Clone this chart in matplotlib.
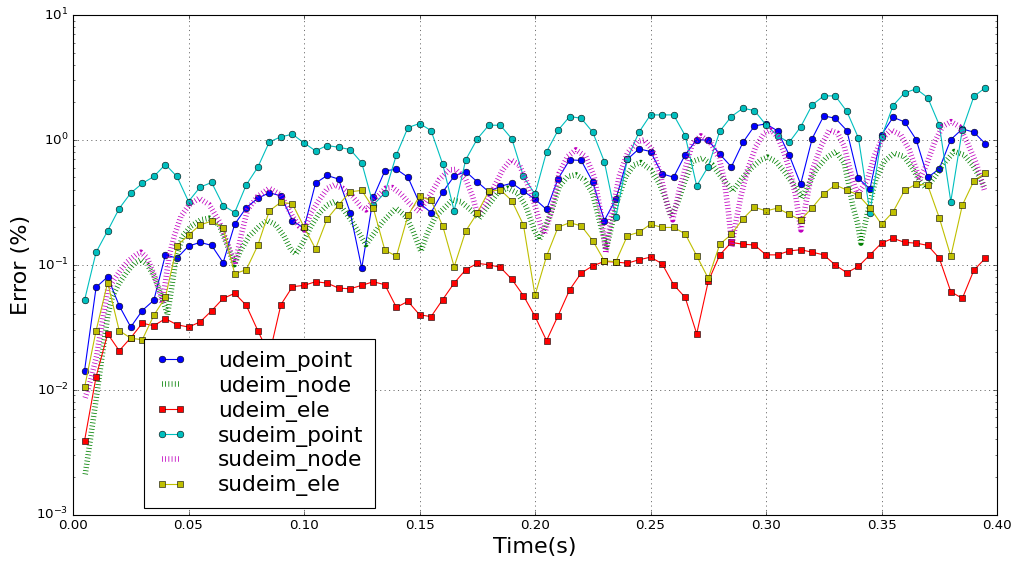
import numpy as np
import matplotlib
matplotlib.use('Agg')
import matplotlib.pyplot as plt

# sample times of the point / element series
t = np.round(np.arange(1, 80) * 0.005, 3)

udeim_point = [0.0142, 0.066, 0.080, 0.047, 0.0317, 0.043, 0.052, 0.120, 0.113, 0.141,
               0.151, 0.143, 0.104, 0.211, 0.286, 0.341, 0.377, 0.356, 0.226, 0.196,
               0.45, 0.519, 0.485, 0.262, 0.094, 0.346, 0.565, 0.582, 0.502, 0.311,
               0.262, 0.381, 0.512, 0.558, 0.461, 0.384, 0.425, 0.45, 0.388, 0.335,
               0.277, 0.488, 0.692, 0.684, 0.461, 0.226, 0.335, 0.70, 0.847, 0.807,
               0.535, 0.502, 0.759, 1.006, 0.992, 0.768, 0.608, 0.953, 1.294, 1.343,
               1.18, 0.759, 0.442, 1.025, 1.556, 1.49, 1.188, 0.491, 0.405, 1.096,
               1.517, 1.393, 1.006, 0.5, 0.586, 1.006, 1.224, 1.152, 0.929]

sudeim_point = [0.052, 0.126, 0.187, 0.282, 0.375, 0.448, 0.509, 0.635, 0.509, 0.321,
                0.418, 0.456, 0.298, 0.262, 0.436, 0.604, 0.964, 1.057, 1.11, 0.945,
                0.817, 0.901, 0.873, 0.837, 0.655, 0.302, 0.375, 0.759, 1.255, 1.352,
                1.188, 0.643, 0.270, 0.692, 1.018, 1.31, 1.31, 1.018, 0.509, 0.367,
                0.802, 1.195, 1.538, 1.49, 1.152, 0.671, 0.242, 0.705, 1.152, 1.585,
                1.585, 1.585, 1.083, 0.428, 0.612, 1.173, 1.538, 1.791, 1.717, 1.318,
                1.08, 0.953, 1.27, 1.905, 2.25, 2.25, 1.69, 1.037, 0.262, 1.05,
                1.882, 2.38, 2.56, 2.18, 1.318, 0.321, 1.21, 2.23, 2.62]

udeim_ele = [0.0039, 0.0127, 0.028, 0.0205, 0.026, 0.034, 0.0325, 0.037, 0.0331, 0.0317,
             0.0348, 0.0428, 0.0538, 0.059, 0.0473, 0.0297, 0.019, 0.0479, 0.0667, 0.0684,
             0.0731, 0.0713, 0.065, 0.0642, 0.0684, 0.0731, 0.0692, 0.0456, 0.0509, 0.0398,
             0.0384, 0.0525, 0.0713, 0.0912, 0.1026, 0.100, 0.0953, 0.0764, 0.0565, 0.0386,
             0.0247, 0.0391, 0.063, 0.0858, 0.098, 0.1063, 0.105, 0.103, 0.1096, 0.115,
             0.102, 0.0692, 0.0548, 0.028, 0.0736, 0.12, 0.151, 0.146, 0.144, 0.12,
             0.12, 0.129, 0.132, 0.126, 0.12, 0.0994, 0.0863, 0.097, 0.12, 0.149,
             0.163, 0.151, 0.149, 0.143, 0.113, 0.0608, 0.0538, 0.0906, 0.113]

sudeim_ele = [0.0104, 0.0297, 0.072, 0.0297, 0.0258, 0.0251, 0.0394, 0.0548, 0.142, 0.173,
              0.208, 0.224, 0.196, 0.0847, 0.0912, 0.143, 0.270, 0.317, 0.307, 0.201,
              0.134, 0.233, 0.302, 0.384, 0.394, 0.284, 0.131, 0.117, 0.248, 0.354,
              0.327, 0.206, 0.0964, 0.186, 0.259, 0.388, 0.398, 0.325, 0.208, 0.0569,
              0.117, 0.2, 0.217, 0.205, 0.156, 0.1076, 0.1057, 0.171, 0.182, 0.211,
              0.199, 0.199, 0.177, 0.118, 0.0778, 0.146, 0.175, 0.233, 0.289, 0.27,
              0.284, 0.254, 0.228, 0.286, 0.37, 0.436, 0.396, 0.361, 0.286, 0.211,
              0.265, 0.394, 0.442, 0.434, 0.238, 0.117, 0.3, 0.47, 0.545]

# node series are sampled finer
t_unode = [0.0053, 0.0077, 0.0102, 0.0128, 0.015, 0.0171, 0.020, 0.023, 0.0265, 0.0294,
           0.0322, 0.0351, 0.038, 0.0402, 0.0409, 0.043, 0.0445, 0.0474, 0.051, 0.0553,
           0.059, 0.0633, 0.067, 0.0698, 0.0727, 0.0763, 0.0806, 0.0842, 0.0878, 0.0914,
           0.0943, 0.0965, 0.0994, 0.103, 0.1066, 0.1102, 0.1131, 0.1167, 0.1203, 0.1239,
           0.1268, 0.1304, 0.134, 0.1398, 0.1441, 0.147, 0.1498, 0.1506, 0.1534, 0.157,
           0.1607, 0.1643, 0.1679, 0.1722, 0.1758, 0.1794, 0.1838, 0.1881, 0.1924, 0.1961,
           0.1997, 0.2018, 0.2069, 0.2105, 0.2141, 0.2177, 0.2213, 0.2249, 0.2278, 0.230,
           0.2307, 0.2328, 0.2357, 0.2393, 0.2429, 0.2458, 0.2502, 0.2538, 0.2567, 0.2588,
           0.2617, 0.2646, 0.2682, 0.2725, 0.2768, 0.2805, 0.2841, 0.2855, 0.2892, 0.2935,
           0.2978, 0.3007, 0.3043, 0.3079, 0.3115, 0.3144, 0.3155, 0.318, 0.3216, 0.3259,
           0.3303, 0.3339, 0.336, 0.3375, 0.3396, 0.3411, 0.3439, 0.3475, 0.3511, 0.3554,
           0.3598, 0.3634, 0.3663, 0.3692, 0.3728, 0.3771, 0.3815, 0.3858, 0.3894, 0.3931,
           0.3945]
udeim_node = [0.0021, 0.0042, 0.0089, 0.0197, 0.0386, 0.0558, 0.0713, 0.0858, 0.103, 0.110,
              0.100, 0.081, 0.059, 0.0437, 0.0398, 0.071, 0.110, 0.169, 0.203, 0.229,
              0.236, 0.209, 0.14, 0.100, 0.132, 0.169, 0.203, 0.226, 0.209, 0.169,
              0.132, 0.122, 0.149, 0.203, 0.259, 0.302, 0.321, 0.284, 0.229, 0.179,
              0.145, 0.179, 0.22, 0.284, 0.244, 0.19, 0.14, 0.128, 0.179, 0.244,
              0.284, 0.331, 0.32, 0.275, 0.236, 0.293, 0.375, 0.41, 0.375, 0.293,
              0.19, 0.158, 0.259, 0.423, 0.509, 0.525, 0.479, 0.375, 0.229, 0.158,
              0.132, 0.19, 0.331, 0.509, 0.631, 0.659, 0.575, 0.45, 0.331, 0.244,
              0.31, 0.45, 0.671, 0.714, 0.631, 0.509, 0.423, 0.386, 0.479, 0.593,
              0.692, 0.727, 0.671, 0.558, 0.45, 0.375, 0.341, 0.423, 0.575, 0.714,
              0.807, 0.65, 0.423, 0.30, 0.216, 0.149, 0.259, 0.479, 0.671, 0.782,
              0.736, 0.593, 0.479, 0.41, 0.5, 0.65, 0.807, 0.757, 0.631, 0.479,
              0.423]

t_snode = [0.0053, 0.0077, 0.0102, 0.0128, 0.015, 0.0178, 0.0207, 0.0236, 0.0272, 0.0294,
           0.0322, 0.0351, 0.0376, 0.0387, 0.0416, 0.0438, 0.0467, 0.0503, 0.0546, 0.059,
           0.0633, 0.067, 0.0701, 0.0727, 0.0755, 0.0799, 0.0849, 0.090, 0.095, 0.098,
           0.1001, 0.103, 0.1066, 0.1102, 0.1131, 0.1167, 0.121, 0.1246, 0.1268, 0.1304,
           0.1354, 0.1383, 0.1419, 0.1455, 0.1498, 0.1542, 0.1585, 0.1628, 0.1657, 0.1701,
           0.173, 0.1751, 0.1787, 0.1831, 0.186, 0.1895, 0.1932, 0.1961, 0.1997, 0.2025,
           0.204, 0.2069, 0.2105, 0.2141, 0.2177, 0.222, 0.2256, 0.2285, 0.2307, 0.2328,
           0.2364, 0.240, 0.2444, 0.2473, 0.2509, 0.2545, 0.2574, 0.2596, 0.2625, 0.2661,
           0.2682, 0.2718, 0.2761, 0.2797, 0.2819, 0.2838, 0.2852, 0.2869, 0.2891, 0.292,
           0.2956, 0.2992, 0.3021, 0.305, 0.3079, 0.3108, 0.3129, 0.3151, 0.3173, 0.3201,
           0.3238, 0.3274, 0.331, 0.3339, 0.336, 0.3375, 0.3396, 0.3439, 0.3468, 0.3504,
           0.3541, 0.3584, 0.362, 0.3649, 0.3663, 0.3692, 0.3728, 0.3764, 0.3801, 0.3837,
           0.3873, 0.391, 0.3945]
sudeim_node = [0.0086, 0.012, 0.0185, 0.036, 0.063, 0.076, 0.091, 0.106, 0.12, 0.126,
               0.113, 0.083, 0.059, 0.049, 0.117, 0.169, 0.244, 0.302, 0.341, 0.302,
               0.222, 0.145, 0.10, 0.169, 0.275, 0.352, 0.41, 0.363, 0.244, 0.203,
               0.19, 0.259, 0.331, 0.41, 0.436, 0.41, 0.352, 0.293, 0.275, 0.331,
               0.41, 0.415, 0.37, 0.311, 0.267, 0.352, 0.479, 0.575, 0.58, 0.479,
               0.352, 0.251, 0.311, 0.45, 0.575, 0.692, 0.631, 0.479, 0.311, 0.203,
               0.175, 0.259, 0.541, 0.736, 0.832, 0.736, 0.509, 0.259, 0.124, 0.229,
               0.509, 0.782, 0.97, 1.0, 0.832, 0.509, 0.293, 0.229, 0.398, 0.692,
               0.94, 1.077, 0.94, 0.714, 0.479, 0.259, 0.14, 0.216, 0.352, 0.575,
               0.885, 1.13, 1.2, 1.064, 0.782, 0.525, 0.352, 0.19, 0.311, 0.575,
               0.885, 1.2, 1.13, 0.885, 0.612, 0.479, 0.363, 0.479, 0.736, 1.03,
               1.2, 1.096, 0.832, 0.593, 0.479, 0.612, 0.94, 1.28, 1.4, 1.28,
               0.94, 0.65, 0.398]

plt.style.use('classic')
plt.rcParams['mathtext.fontset'] = 'dejavusans'
plt.rcParams['lines.scale_dashes'] = False

fig = plt.figure(figsize=(1012 / 80, 565 / 80), dpi=80, facecolor='w')
ax = fig.add_axes([73 / 1012, 50.5 / 565, 924 / 1012, 499.5 / 565])

dots = (0, (0.7, 2.2))
mk = dict(markersize=6, markeredgecolor='k', markeredgewidth=0.5, linewidth=1)
ax.plot(t, udeim_point, 'b-o', label='udeim_point', **mk)
ax.plot(t_unode, udeim_node, color='g', linestyle=dots, linewidth=5, label='udeim_node')
ax.plot(t, udeim_ele, 'r-s', label='udeim_ele', **mk)
ax.plot(t, sudeim_point, 'c-o', label='sudeim_point', **mk)
ax.plot(t_snode, sudeim_node, color='m', linestyle=dots, linewidth=5, label='sudeim_node')
ax.plot(t, sudeim_ele, 'y-s', label='sudeim_ele', **mk)

ax.set_yscale('log')
ax.set_xlim(0, 0.4)
ax.set_ylim(1e-3, 1e1)
ax.set_xticks(np.arange(0, 0.401, 0.05))
ax.grid(True)
ax.set_xlabel('Time(s)', fontsize=20)
ax.set_ylabel('Error (%)', fontsize=20)

leg = ax.legend(loc='lower left', bbox_to_anchor=(0.0765, 0.013), borderaxespad=0,
                fontsize=19.5, numpoints=2, handlelength=1.45, handletextpad=1.45,
                labelspacing=0.18, borderpad=0.54, fancybox=False)
leg.get_frame().set_edgecolor('k')

fig.savefig('out.png', dpi=80, facecolor='w')
